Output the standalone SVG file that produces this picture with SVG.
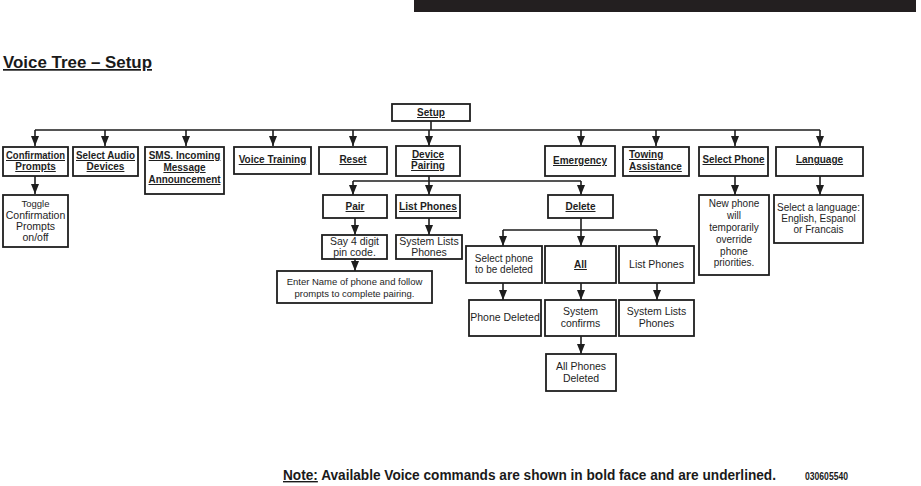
<svg xmlns="http://www.w3.org/2000/svg" width="921" height="486" viewBox="0 0 921 486">
<style>
  .box { fill: #ffffff; stroke: #1e1e1e; stroke-width: 1.8; }
  .cmd { font-family: "Liberation Sans", Arial, sans-serif; font-size: 10px; font-weight: bold; fill: #1e1e1e; text-anchor: middle; text-decoration: underline; }
  .txt { font-family: "Liberation Sans", Arial, sans-serif; font-size: 10.5px; fill: #1e1e1e; text-anchor: middle; }
  .wire { fill: none; stroke: #1e1e1e; stroke-width: 1.6; }
  .title { font-family: "Liberation Sans", Arial, sans-serif; font-size: 17px; font-weight: bold; fill: #1a1a1a; text-decoration: underline; }
  .note { font-family: "Liberation Sans", Arial, sans-serif; font-size: 14px; font-weight: bold; fill: #1a1a1a; }
</style>
<defs>
  <marker id="arr" markerUnits="userSpaceOnUse" markerWidth="11" markerHeight="11" viewBox="0 0 11 11" refX="10" refY="5.5" orient="auto">
    <path d="M0,1.5 L10,5.5 L0,9.5 Z" fill="#1e1e1e"/>
  </marker>
</defs>
<rect x="414" y="0" width="502" height="12" fill="#231f20"/>
<text class="title" x="3" y="68" textLength="149" lengthAdjust="spacingAndGlyphs">Voice Tree – Setup</text>

<g id="connectors">
  <path class="wire" d="M431 121 V130 M35 130 H820"/>
  <path class="wire" marker-end="url(#arr)" d="M35 130 V146"/>
  <path class="wire" marker-end="url(#arr)" d="M105 130 V146"/>
  <path class="wire" marker-end="url(#arr)" d="M186 130 V146"/>
  <path class="wire" marker-end="url(#arr)" d="M273 130 V146"/>
  <path class="wire" marker-end="url(#arr)" d="M353 130 V146"/>
  <path class="wire" marker-end="url(#arr)" d="M429 130 V146"/>
  <path class="wire" marker-end="url(#arr)" d="M581 130 V146"/>
  <path class="wire" marker-end="url(#arr)" d="M656 130 V146"/>
  <path class="wire" marker-end="url(#arr)" d="M735 130 V146"/>
  <path class="wire" marker-end="url(#arr)" d="M820 130 V146"/>
  <path class="wire" marker-end="url(#arr)" d="M35 176 V194"/>
  <path class="wire" d="M429 176 V181 M353 181 H581"/>
  <path class="wire" marker-end="url(#arr)" d="M353 181 V195"/>
  <path class="wire" marker-end="url(#arr)" d="M429 181 V195"/>
  <path class="wire" marker-end="url(#arr)" d="M581 181 V195"/>
  <path class="wire" marker-end="url(#arr)" d="M355 218 V235"/>
  <path class="wire" marker-end="url(#arr)" d="M355 259 V271"/>
  <path class="wire" marker-end="url(#arr)" d="M429 218 V235"/>
  <path class="wire" d="M581 218 V230 M503 230 H657"/>
  <path class="wire" marker-end="url(#arr)" d="M503 230 V246"/>
  <path class="wire" marker-end="url(#arr)" d="M581 230 V246"/>
  <path class="wire" marker-end="url(#arr)" d="M657 230 V246"/>
  <path class="wire" marker-end="url(#arr)" d="M503 283 V300"/>
  <path class="wire" marker-end="url(#arr)" d="M581 283 V300"/>
  <path class="wire" marker-end="url(#arr)" d="M657 283 V300"/>
  <path class="wire" marker-end="url(#arr)" d="M581 336 V354"/>
  <path class="wire" marker-end="url(#arr)" d="M735 176 V195"/>
  <path class="wire" marker-end="url(#arr)" d="M820 176 V195"/>
</g>

<g id="setup"><rect class="box" x="392" y="104" width="78" height="17"/><text class="cmd" x="431" y="116">Setup</text></g>

<g id="confirmation-prompts"><rect class="box" x="3" y="147" width="65" height="29"/><text class="cmd" x="35.5" y="159" textLength="59" lengthAdjust="spacingAndGlyphs">Confirmation</text><text class="cmd" x="35.5" y="170">Prompts</text></g>
<g id="select-audio"><rect class="box" x="73" y="147" width="65" height="29"/><text class="cmd" x="105.5" y="159" textLength="59" lengthAdjust="spacingAndGlyphs">Select Audio</text><text class="cmd" x="105.5" y="170">Devices</text></g>
<g id="sms"><rect class="box" x="145" y="147" width="79" height="47"/><text class="cmd" x="184.5" y="159">SMS. Incoming</text><text class="cmd" x="184.5" y="171">Message</text><text class="cmd" x="184.5" y="183" textLength="72" lengthAdjust="spacingAndGlyphs">Announcement</text></g>
<g id="voice-training"><rect class="box" x="234" y="147" width="77" height="27"/><text class="cmd" x="272.5" y="163">Voice Training</text></g>
<g id="reset"><rect class="box" x="319" y="147" width="68" height="27"/><text class="cmd" x="353" y="163">Reset</text></g>
<g id="device-pairing"><rect class="box" x="396" y="146" width="64" height="30"/><text class="cmd" x="428" y="158">Device</text><text class="cmd" x="428" y="169">Pairing</text></g>
<g id="emergency"><rect class="box" x="545" y="146" width="70" height="30"/><text class="cmd" x="580" y="164">Emergency</text></g>
<g id="towing"><rect class="box" x="623" y="147" width="66" height="29"/><text class="cmd" x="629" y="158" style="text-anchor:start">Towing</text><text class="cmd" x="629" y="170" style="text-anchor:start">Assistance</text></g>
<g id="select-phone"><rect class="box" x="699" y="147" width="69" height="29"/><text class="cmd" x="733.5" y="163" textLength="62" lengthAdjust="spacingAndGlyphs">Select Phone</text></g>
<g id="language"><rect class="box" x="776" y="147" width="87" height="29"/><text class="cmd" x="819.5" y="163">Language</text></g>

<g id="toggle"><rect class="box" x="3" y="195" width="65" height="52"/><text class="txt" x="35.5" y="207" style="font-size:9.5px">Toggle</text><text class="txt" x="35.5" y="219">Confirmation</text><text class="txt" x="35.5" y="230">Prompts</text><text class="txt" x="35.5" y="241">on/off</text></g>

<g id="pair"><rect class="box" x="323" y="195" width="64" height="23"/><text class="cmd" x="355" y="210">Pair</text></g>
<g id="list-phones-1"><rect class="box" x="396" y="195" width="64" height="23"/><text class="cmd" x="428" y="210" textLength="58" lengthAdjust="spacingAndGlyphs">List Phones</text></g>
<g id="delete"><rect class="box" x="548" y="195" width="65" height="23"/><text class="cmd" x="580.5" y="210">Delete</text></g>

<g id="say-pin"><rect class="box" x="322" y="235" width="65" height="24"/><text class="txt" x="354.5" y="245">Say 4 digit</text><text class="txt" x="354.5" y="256">pin code.</text></g>
<g id="system-lists-1"><rect class="box" x="396" y="235" width="66" height="24"/><text class="txt" x="429" y="245">System Lists</text><text class="txt" x="429" y="256">Phones</text></g>
<g id="enter-name"><rect class="box" x="277" y="271" width="155" height="32"/><text class="txt" x="354.5" y="285" style="font-size:9.5px">Enter Name of phone and follow</text><text class="txt" x="354.5" y="297" style="font-size:9.5px">prompts to complete pairing.</text></g>

<g id="select-phone-deleted"><rect class="box" x="466" y="246" width="76" height="37"/><text class="txt" x="504" y="262" style="font-size:10px">Select phone</text><text class="txt" x="504" y="273" style="font-size:10px">to be deleted</text></g>
<g id="all"><rect class="box" x="545" y="246" width="71" height="37"/><text class="cmd" x="580.5" y="268">All</text></g>
<g id="list-phones-2"><rect class="box" x="619" y="246" width="75" height="37"/><text class="txt" x="656.5" y="268">List Phones</text></g>

<g id="phone-deleted"><rect class="box" x="469" y="300" width="72" height="36"/><text class="txt" x="505" y="321">Phone Deleted</text></g>
<g id="system-confirms"><rect class="box" x="545" y="300" width="71" height="36"/><text class="txt" x="580.5" y="315">System</text><text class="txt" x="580.5" y="327">confirms</text></g>
<g id="system-lists-2"><rect class="box" x="619" y="300" width="75" height="36"/><text class="txt" x="656.5" y="315">System Lists</text><text class="txt" x="656.5" y="327">Phones</text></g>
<g id="all-phones-deleted"><rect class="box" x="546" y="354" width="70" height="37"/><text class="txt" x="581" y="370">All Phones</text><text class="txt" x="581" y="382">Deleted</text></g>

<g id="new-phone"><rect class="box" x="699" y="195" width="70" height="80"/><text class="txt" x="734" y="207" style="font-size:10px">New phone</text><text class="txt" x="734" y="219" style="font-size:10px">will</text><text class="txt" x="734" y="231" style="font-size:10px">temporarily</text><text class="txt" x="734" y="243" style="font-size:10px">override</text><text class="txt" x="734" y="255" style="font-size:10px">phone</text><text class="txt" x="734" y="266" style="font-size:10px">priorities.</text></g>
<g id="select-language"><rect class="box" x="774" y="195" width="89" height="48"/><text class="txt" x="818.5" y="211" style="font-size:10px">Select a language:</text><text class="txt" x="818.5" y="222" style="font-size:10px">English, Espanol</text><text class="txt" x="818.5" y="233" style="font-size:10px">or Francais</text></g>

<text class="note" x="283" y="480" textLength="493" lengthAdjust="spacingAndGlyphs"><tspan text-decoration="underline">Note:</tspan> Available Voice commands are shown in bold face and are underlined.</text>
<text x="805" y="480" font-family="Liberation Sans, Arial, sans-serif" font-size="11" font-weight="bold" fill="#1a1a1a" textLength="43" lengthAdjust="spacingAndGlyphs">030605540</text>
</svg>
